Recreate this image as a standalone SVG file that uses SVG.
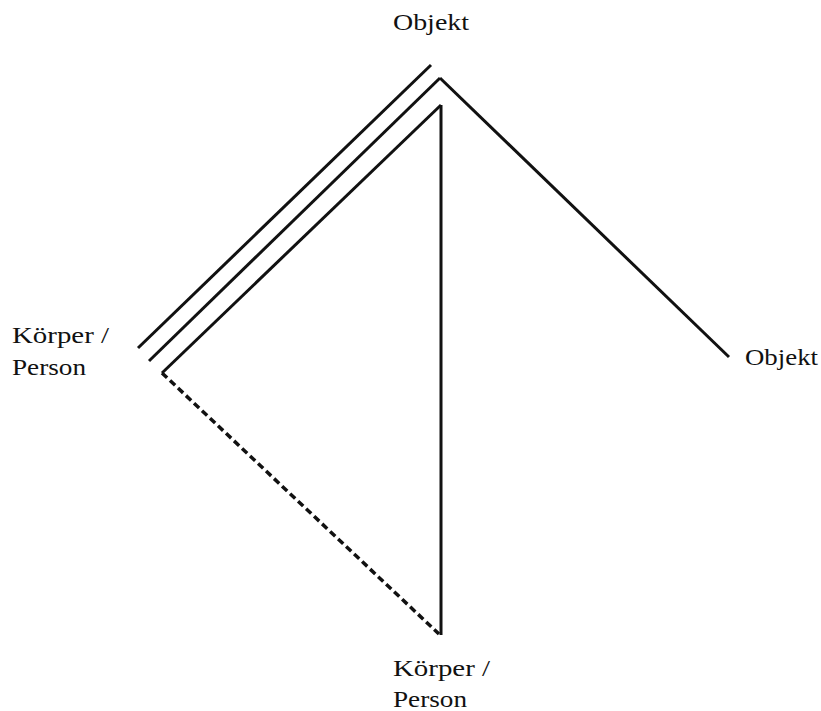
<svg xmlns="http://www.w3.org/2000/svg" width="821" height="711" viewBox="0 0 821 711">
<style>
.ln{stroke:#111;stroke-width:3;fill:none;stroke-linecap:butt}
.dash{stroke-dasharray:7 4;stroke-width:3.5}
.lbl{font-family:"Liberation Serif",serif;font-size:24px;fill:#111}
</style>
<rect width="821" height="711" fill="#fff"/>
<g id="connectors">
<line class="ln" x1="138" y1="348" x2="431" y2="65"/>
<line class="ln" x1="149" y1="361" x2="440" y2="78"/>
<line class="ln" x1="440" y1="78" x2="729" y2="357"/>
<line class="ln" x1="162" y1="373" x2="441" y2="105"/>
<line class="ln" x1="441" y1="105" x2="441" y2="635"/>
<line class="ln dash" x1="162" y1="373" x2="439" y2="634"/>
</g>
<g id="objekt-top"><text class="lbl" x="393" y="30" textLength="76" lengthAdjust="spacingAndGlyphs">Objekt</text></g>
<g id="objekt-right"><text class="lbl" x="745" y="365" textLength="73" lengthAdjust="spacingAndGlyphs">Objekt</text></g>
<g id="person-left"><text class="lbl" x="12" y="343" textLength="97" lengthAdjust="spacingAndGlyphs">Körper /</text><text class="lbl" x="12" y="375" textLength="74" lengthAdjust="spacingAndGlyphs">Person</text></g>
<g id="person-bottom"><text class="lbl" x="393" y="676" textLength="97" lengthAdjust="spacingAndGlyphs">Körper /</text><text class="lbl" x="393" y="707" textLength="74" lengthAdjust="spacingAndGlyphs">Person</text></g>
</svg>
